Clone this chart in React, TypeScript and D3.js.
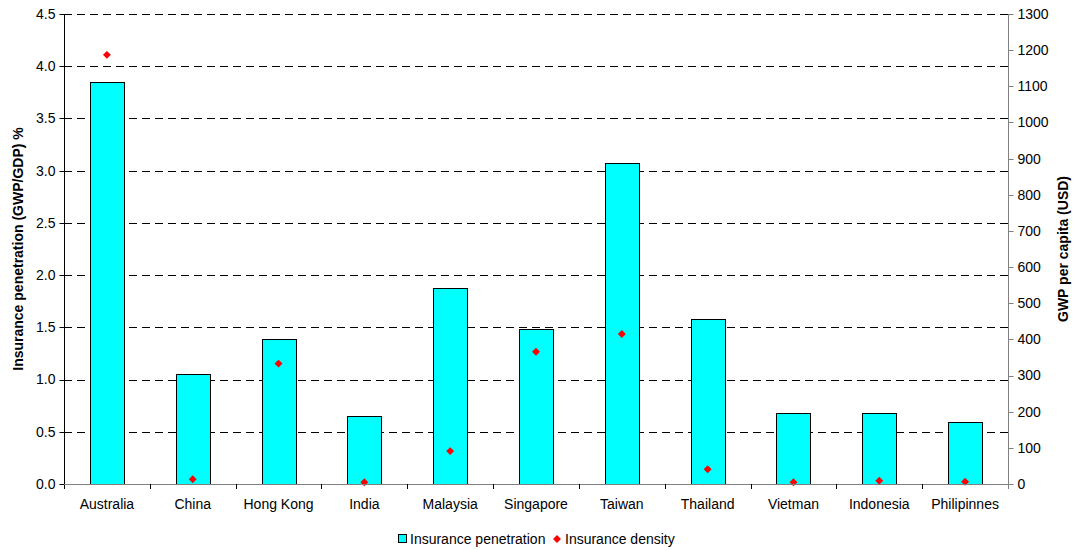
import React, { useEffect, useRef } from "react";
import * as d3 from "d3";

const countries = [
  "Australia", "China", "Hong Kong", "India", "Malaysia", "Singapore",
  "Taiwan", "Thailand", "Vietman", "Indonesia", "Philipinnes",
];
const penetration = [3.85, 1.05, 1.39, 0.65, 1.88, 1.48, 3.07, 1.58, 0.68, 0.68, 0.59];
const density = [1187, 13, 333, 5, 91, 366, 415, 41, 5, 9, 6];
const leftTicks = [0, 0.5, 1, 1.5, 2, 2.5, 3, 3.5, 4, 4.5];
const rightTicks = [0, 100, 200, 300, 400, 500, 600, 700, 800, 900, 1000, 1100, 1200, 1300];

const W = 1075;
const H = 550;
const FONT = "'Liberation Sans', Arial, sans-serif";

export default function App() {
  const ref = useRef<SVGSVGElement>(null);

  useEffect(() => {
    document.body.style.margin = "0";
    document.body.style.overflow = "hidden";

    const svg = d3.select(ref.current);
    svg.selectAll("*").remove();

    const left = 64, right = 1008, top = 14, bottom = 484;

    const x = d3.scaleBand().domain(countries).range([left, right]).paddingInner(0).paddingOuter(0);
    const yL = d3.scaleLinear().domain([0, 4.5]).range([bottom, top]);
    const yR = d3.scaleLinear().domain([0, 1300]).range([bottom, top]);

    const g = svg.append("g");

    // dashed horizontal gridlines
    g.selectAll("line.grid")
      .data(leftTicks.filter((t) => t > 0))
      .join("line")
      .attr("x1", left)
      .attr("x2", right)
      .attr("y1", (d) => Math.round(yL(d)) + 0.5)
      .attr("y2", (d) => Math.round(yL(d)) + 0.5)
      .attr("stroke", "#000")
      .attr("stroke-width", 1)
      .attr("stroke-dasharray", "8,5");

    // bars
    const bw = 34;
    g.selectAll("rect.bar")
      .data(countries)
      .join("rect")
      .attr("x", (d) => Math.round(x(d)! + x.bandwidth() / 2 - bw / 2) + 0.5)
      .attr("y", (_d, i) => Math.round(yL(penetration[i])) + 0.5)
      .attr("width", bw)
      .attr("height", (_d, i) => Math.round(bottom) - Math.round(yL(penetration[i])))
      .attr("fill", "#00FFFF")
      .attr("stroke", "#000")
      .attr("stroke-width", 1);

    // density markers
    const diamond = d3.symbol().type(d3.symbolDiamond2).size(40);
    g.selectAll("path.dot")
      .data(countries)
      .join("path")
      .attr("transform", (d, i) => `translate(${x(d)! + x.bandwidth() / 2},${yR(density[i])})`)
      .attr("d", diamond)
      .attr("fill", "#FF0000");

    // left axis
    const axL = svg.append("g").attr("transform", `translate(${left + 0.5},0)`);
    axL.append("line").attr("y1", top).attr("y2", bottom + 5).attr("stroke", "#000");
    axL.selectAll("line.t").data(leftTicks).join("line")
      .attr("x1", -5).attr("x2", 0)
      .attr("y1", (d) => Math.round(yL(d)) + 0.5).attr("y2", (d) => Math.round(yL(d)) + 0.5)
      .attr("stroke", "#000");
    axL.selectAll("text").data(leftTicks).join("text")
      .attr("x", -9).attr("y", (d) => yL(d)).attr("dy", "0.35em")
      .attr("text-anchor", "end")
      .attr("font-family", FONT).attr("font-size", 14).attr("fill", "#000")
      .text((d) => d3.format(".1f")(d));

    // right axis
    const axR = svg.append("g").attr("transform", `translate(${right + 0.5},0)`);
    axR.append("line").attr("y1", top).attr("y2", bottom + 5).attr("stroke", "#808080");
    axR.selectAll("line.t").data(rightTicks).join("line")
      .attr("x1", 0).attr("x2", 5)
      .attr("y1", (d) => Math.round(yR(d)) + 0.5).attr("y2", (d) => Math.round(yR(d)) + 0.5)
      .attr("stroke", "#808080");
    axR.selectAll("text").data(rightTicks).join("text")
      .attr("x", 9).attr("y", (d) => yR(d)).attr("dy", "0.35em")
      .attr("text-anchor", "start")
      .attr("font-family", FONT).attr("font-size", 14).attr("fill", "#000")
      .text((d) => String(d));

    // category axis
    const axB = svg.append("g");
    axB.append("line")
      .attr("x1", left).attr("x2", right)
      .attr("y1", bottom + 0.5).attr("y2", bottom + 0.5)
      .attr("stroke", "#808080");
    axB.selectAll("line.t").data(countries.slice(1)).join("line")
      .attr("x1", (d) => Math.round(x(d)!) + 0.5).attr("x2", (d) => Math.round(x(d)!) + 0.5)
      .attr("y1", bottom).attr("y2", bottom + 5)
      .attr("stroke", "#000");
    axB.selectAll("text").data(countries).join("text")
      .attr("x", (d) => x(d)! + x.bandwidth() / 2)
      .attr("y", 509)
      .attr("text-anchor", "middle")
      .attr("font-family", FONT).attr("font-size", 14).attr("fill", "#000")
      .text((d) => d);

    // axis titles
    svg.append("text")
      .attr("transform", `translate(23,${(top + bottom) / 2}) rotate(-90)`)
      .attr("text-anchor", "middle")
      .attr("font-family", FONT).attr("font-size", 14).attr("font-weight", "bold")
      .text("Insurance penetration (GWP/GDP) %");
    svg.append("text")
      .attr("transform", `translate(1068,${(top + bottom) / 2}) rotate(-90)`)
      .attr("text-anchor", "middle")
      .attr("font-family", FONT).attr("font-size", 14).attr("font-weight", "bold")
      .text("GWP per capita (USD)");

    // legend
    const lg = svg.append("g").attr("transform", "translate(0,539)");
    lg.append("rect").attr("x", 398.5).attr("y", -4.5).attr("width", 8).attr("height", 8)
      .attr("fill", "#00FFFF").attr("stroke", "#000");
    lg.append("text").attr("x", 410).attr("y", 0).attr("dy", "0.35em")
      .attr("font-family", FONT).attr("font-size", 14)
      .text("Insurance penetration");
    lg.append("path").attr("transform", "translate(557,0)").attr("d", diamond).attr("fill", "#FF0000");
    lg.append("text").attr("x", 565).attr("y", 0).attr("dy", "0.35em")
      .attr("font-family", FONT).attr("font-size", 14)
      .text("Insurance density");
  }, []);

  return (
    <svg
      ref={ref}
      width={W}
      height={H}
      style={{ display: "block", position: "absolute", left: 0, top: 0, background: "#fff" }}
    />
  );
}
